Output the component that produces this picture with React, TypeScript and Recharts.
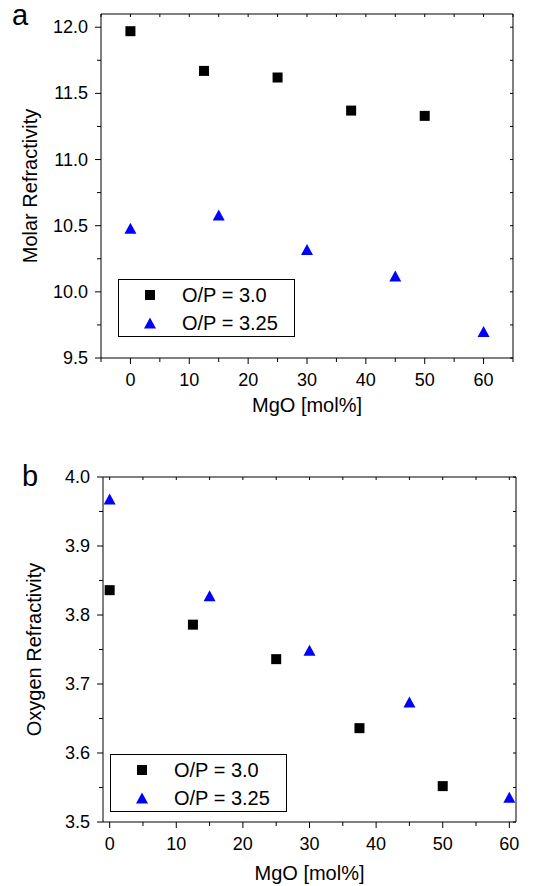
import React from "react"
import { ScatterChart, Scatter, XAxis, YAxis, ReferenceLine, Legend, Label } from "recharts"

// MgO content [mol%] for the two O/P series
const mgoOP30 = [0, 12.5, 25, 37.5, 50]
const mgoOP325 = [0, 15, 30, 45, 60]

// panel a: molar refractivity
const molarOP30 = [11.97, 11.67, 11.62, 11.37, 11.33]
const molarOP325 = [10.48, 10.58, 10.32, 10.12, 9.7]

// panel b: oxygen refractivity
const oxygenOP30 = [3.836, 3.786, 3.736, 3.636, 3.552]
const oxygenOP325 = [3.968, 3.828, 3.749, 3.674, 3.536]

const seriesNames = ["O/P = 3.0", "O/P = 3.25"]

// ticks (majors are labelled, the rest are minor marks)
const xTicksA = [-5, 0, 5, 10, 15, 20, 25, 30, 35, 40, 45, 50, 55, 60, 65]
const yTicksA = [9.5, 9.75, 10, 10.25, 10.5, 10.75, 11, 11.25, 11.5, 11.75, 12]
const xTicksB = [0, 5, 10, 15, 20, 25, 30, 35, 40, 45, 50, 55, 60]
const yTicksB = [3.5, 3.55, 3.6, 3.65, 3.7, 3.75, 3.8, 3.85, 3.9, 3.95, 4.0]

const FONT = "'Liberation Sans', Arial, Helvetica, sans-serif"

const zip = (xs: number[], ys: number[]) => xs.map((x, i) => ({ x, y: ys[i] }))

const Square = (p: any) => <rect x={p.cx - 5} y={p.cy - 5} width={10} height={10} fill="#000" />
const Triangle = (p: any) => (
  <polygon points={`${p.cx - 6},${p.cy + 5.5} ${p.cx + 6},${p.cy + 5.5} ${p.cx},${p.cy - 5.5}`} fill="#0000ff" />
)

function LegendBox(props: any) {
  const { payload = [] } = props
  return (
    <div
      style={{
        width: 177,
        height: 58,
        boxSizing: "border-box",
        border: "1px solid #000",
        background: "#fff",
        paddingTop: 1,
        fontFamily: FONT,
      }}
    >
      {payload.map((e: any) => (
        <div key={e.value} style={{ display: "flex", alignItems: "center", height: 28 }}>
          <svg width={63} height={28}>
            {e.type === "triangle" ? <Triangle cx={31} cy={14} /> : <Square cx={31} cy={14} />}
          </svg>
          <span style={{ fontSize: 20, lineHeight: "28px", color: "#000" }}>{e.value}</span>
        </div>
      ))}
    </div>
  )
}

interface PanelProps {
  top: number
  height: number
  plotTop: number
  plotRight: number
  yWidth: number
  xHeight: number
  xDomain: [number, number]
  yDomain: [number, number]
  xTicks: number[]
  yTicks: number[]
  yMajor: (v: number) => boolean
  yLabel: string
  yLabelOffset: number
  xLabelOffset: number
  legendPos: { left: number; top: number }
  s1: { x: number; y: number }[]
  s2: { x: number; y: number }[]
}

function Panel(p: PanelProps) {
  const XTick = (t: any) => {
    const v = t.payload.value
    const major = v % 10 === 0
    return (
      <g>
        <line x1={t.x} x2={t.x} y1={t.y} y2={t.y + (major ? 6 : 4)} stroke="#000" />
        <line x1={t.x} x2={t.x} y1={p.plotTop} y2={p.plotTop + 3} stroke="#000" />
        {major && (
          <text x={t.x} y={t.y + 22} textAnchor="middle" dominantBaseline="central" fontSize={18} fontFamily={FONT} fill="#000">
            {v}
          </text>
        )}
      </g>
    )
  }
  const YTick = (t: any) => {
    const v = t.payload.value
    const major = p.yMajor(v)
    return (
      <g>
        <line x1={t.x} x2={t.x - (major ? 6 : 4)} y1={t.y} y2={t.y} stroke="#000" />
        <line x1={p.plotRight} x2={p.plotRight - 3} y1={t.y} y2={t.y} stroke="#000" />
        {major && (
          <text x={t.x - 13} y={t.y} textAnchor="end" dominantBaseline="central" fontSize={18} fontFamily={FONT} fill="#000">
            {v.toFixed(1)}
          </text>
        )}
      </g>
    )
  }
  return (
    <div style={{ position: "absolute", left: 0, top: p.top }}>
      <ScatterChart
        width={544}
        height={p.height}
        margin={{ top: p.plotTop, right: 544 - p.plotRight, bottom: 0, left: 0 }}
      >
        <XAxis
          type="number"
          dataKey="x"
          domain={p.xDomain}
          ticks={p.xTicks}
          interval={0}
          height={p.xHeight}
          tickSize={0}
          tickMargin={0}
          tickLine={false}
          axisLine={{ stroke: "#000" }}
          tick={XTick}
        >
          <Label
            value="MgO [mol%]"
            position="insideBottom"
            offset={p.xLabelOffset}
            style={{ fontSize: 20, fontFamily: FONT, fill: "#000" }}
          />
        </XAxis>
        <YAxis
          type="number"
          dataKey="y"
          domain={p.yDomain}
          ticks={p.yTicks}
          interval={0}
          width={p.yWidth}
          tickSize={0}
          tickMargin={0}
          tickLine={false}
          axisLine={{ stroke: "#000" }}
          tick={YTick}
        >
          <Label
            value={p.yLabel}
            angle={-90}
            position="insideLeft"
            offset={p.yLabelOffset}
            style={{ fontSize: 20, fontFamily: FONT, fill: "#000", textAnchor: "middle" }}
          />
        </YAxis>
        <ReferenceLine y={p.yDomain[1]} stroke="#000" />
        <ReferenceLine x={p.xDomain[1]} stroke="#000" />
        <Legend
          layout="horizontal"
          verticalAlign="middle"
          align="center"
          wrapperStyle={{ left: p.legendPos.left, top: p.legendPos.top, width: 177, height: 58 }}
          content={LegendBox}
        />
        <Scatter name={seriesNames[0]} data={p.s1} legendType="square" shape={Square} isAnimationActive={false} />
        <Scatter name={seriesNames[1]} data={p.s2} legendType="triangle" shape={Triangle} isAnimationActive={false} />
      </ScatterChart>
    </div>
  )
}

export default function App() {
  return (
    <div style={{ position: "absolute", left: 0, top: 0, width: 544, height: 886, background: "#fff" }}>
      <Panel
        top={0}
        height={420}
        plotTop={14}
        plotRight={513}
        yWidth={101}
        xHeight={62}
        xDomain={[-5, 65]}
        yDomain={[9.5, 12.1]}
        xTicks={xTicksA}
        yTicks={yTicksA}
        yMajor={(v) => Math.abs(v * 2 - Math.round(v * 2)) < 1e-6}
        yLabel="Molar Refractivity"
        yLabelOffset={30}
        xLabelOffset={8}
        legendPos={{ left: 118, top: 279 }}
        s1={zip(mgoOP30, molarOP30)}
        s2={zip(mgoOP325, molarOP325)}
      />
      <Panel
        top={440}
        height={446}
        plotTop={37}
        plotRight={516}
        yWidth={103}
        xHeight={64}
        xDomain={[-1, 61]}
        yDomain={[3.5, 4.0]}
        xTicks={xTicksB}
        yTicks={yTicksB}
        yMajor={(v) => Math.abs(v * 10 - Math.round(v * 10)) < 1e-6}
        yLabel="Oxygen Refractivity"
        yLabelOffset={34}
        xLabelOffset={6}
        legendPos={{ left: 110, top: 314 }}
        s1={zip(mgoOP30, oxygenOP30)}
        s2={zip(mgoOP325, oxygenOP325)}
      />
      <svg width={544} height={886} style={{ position: "absolute", left: 0, top: 0, pointerEvents: "none" }}>
        <text x={12} y={25} fontSize={29} fontFamily={FONT} fill="#000">a</text>
        <text x={22} y={486} fontSize={29} fontFamily={FONT} fill="#000">b</text>
      </svg>
    </div>
  )
}
